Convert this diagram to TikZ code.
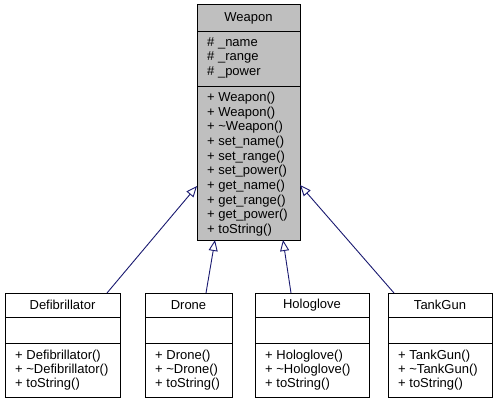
\documentclass[tikz,border=0pt]{standalone}
\usepackage{fontspec}
\setmainfont{Liberation Sans}
\usetikzlibrary{arrows.meta}
\definecolor{edgecol}{HTML}{191970}
\definecolor{boxgray}{HTML}{BFBFBF}
\begin{document}
\begin{tikzpicture}[x=1pt,y=-1pt,
  umlbox/.style={draw=black, line width=1pt, inner sep=0pt, outer sep=0pt, anchor=north west},
  sep/.style={draw=black, line width=1pt},
  txt/.style={anchor=west, inner sep=0pt, font=\fontsize{13}{15}\selectfont},
  ttl/.style={inner sep=0pt, font=\fontsize{13}{15}\selectfont},
  inherit/.style={draw=edgecol, line width=0.9pt, -{Triangle[open, length=11pt, width=9pt]}}]
\useasboundingbox (0,0) rectangle (496,404);

% Weapon
\node[umlbox, fill=boxgray, minimum width=103pt, minimum height=235pt] (weapon) at (197,5) {};
\draw[sep] (197,32) -- (300,32);
\draw[sep] (197,87) -- (300,87);
\node[ttl] (wt) at (248.5,18.5) {Weapon};
\node[txt] (wa1) at (207,43) {\# \_name};
\node[txt] (wa2) at (207,57.5) {\# \_range};
\node[txt] (wa3) at (207,72) {\# \_power};
\node[txt] (wm1) at (207,98) {+ Weapon()};
\node[txt] (wm2) at (207,112.7) {+ Weapon()};
\node[txt] (wm3) at (207,127.3) {+ \textasciitilde Weapon()};
\node[txt] (wm4) at (207,142) {+ set\_name()};
\node[txt] (wm5) at (207,156.7) {+ set\_range()};
\node[txt] (wm6) at (207,171.3) {+ set\_power()};
\node[txt] (wm7) at (207,186) {+ get\_name()};
\node[txt] (wm8) at (207,200.7) {+ get\_range()};
\node[txt] (wm9) at (207,215.3) {+ get\_power()};
\node[txt] (wm10) at (207,230) {+ toString()};

% Defibrillator
\node[umlbox, fill=white, minimum width=115pt, minimum height=104pt] (defib) at (5,293) {};
\draw[sep] (5,317) -- (120,317);
\draw[sep] (5,343) -- (120,343);
\node[ttl] (dt) at (62.5,305) {Defibrillator};
\node[txt] (dm1) at (15,356) {+ Defibrillator()};
\node[txt] (dm2) at (15,370) {+ \textasciitilde Defibrillator()};
\node[txt] (dm3) at (15,384) {+ toString()};

% Drone
\node[umlbox, fill=white, minimum width=87pt, minimum height=104pt] (drone) at (145,293) {};
\draw[sep] (145,317) -- (232,317);
\draw[sep] (145,343) -- (232,343);
\node[ttl] (rt) at (188.5,305) {Drone};
\node[txt] (rm1) at (155,356) {+ Drone()};
\node[txt] (rm2) at (155,370) {+ \textasciitilde Drone()};
\node[txt] (rm3) at (155,384) {+ toString()};

% Hologlove
\node[umlbox, fill=white, minimum width=114pt, minimum height=104pt] (holo) at (255,293) {};
\draw[sep] (255,317) -- (369,317);
\draw[sep] (255,343) -- (369,343);
\node[ttl] (ht) at (312,305) {Hologlove};
\node[txt] (hm1) at (265,356) {+ Hologlove()};
\node[txt] (hm2) at (265,370) {+ \textasciitilde Hologlove()};
\node[txt] (hm3) at (265,384) {+ toString()};

% TankGun
\node[umlbox, fill=white, minimum width=104pt, minimum height=104pt] (tank) at (388,293) {};
\draw[sep] (388,317) -- (492,317);
\draw[sep] (388,343) -- (492,343);
\node[ttl] (kt) at (440,305) {TankGun};
\node[txt] (km1) at (398,356) {+ TankGun()};
\node[txt] (km2) at (398,370) {+ \textasciitilde TankGun()};
\node[txt] (km3) at (398,384) {+ toString()};

% connectors
\coordinate (ds) at (107,293);
\coordinate (de) at (197,186);
\coordinate (rs) at (206,293);
\coordinate (re) at (215,240);
\coordinate (hs) at (291,293);
\coordinate (he) at (283,240);
\coordinate (ks) at (394,293);
\coordinate (ke) at (300,185);
\draw[inherit] (ds) -- (de);
\draw[inherit] (rs) -- (re);
\draw[inherit] (hs) -- (he);
\draw[inherit] (ks) -- (ke);
\end{tikzpicture}
\end{document}
